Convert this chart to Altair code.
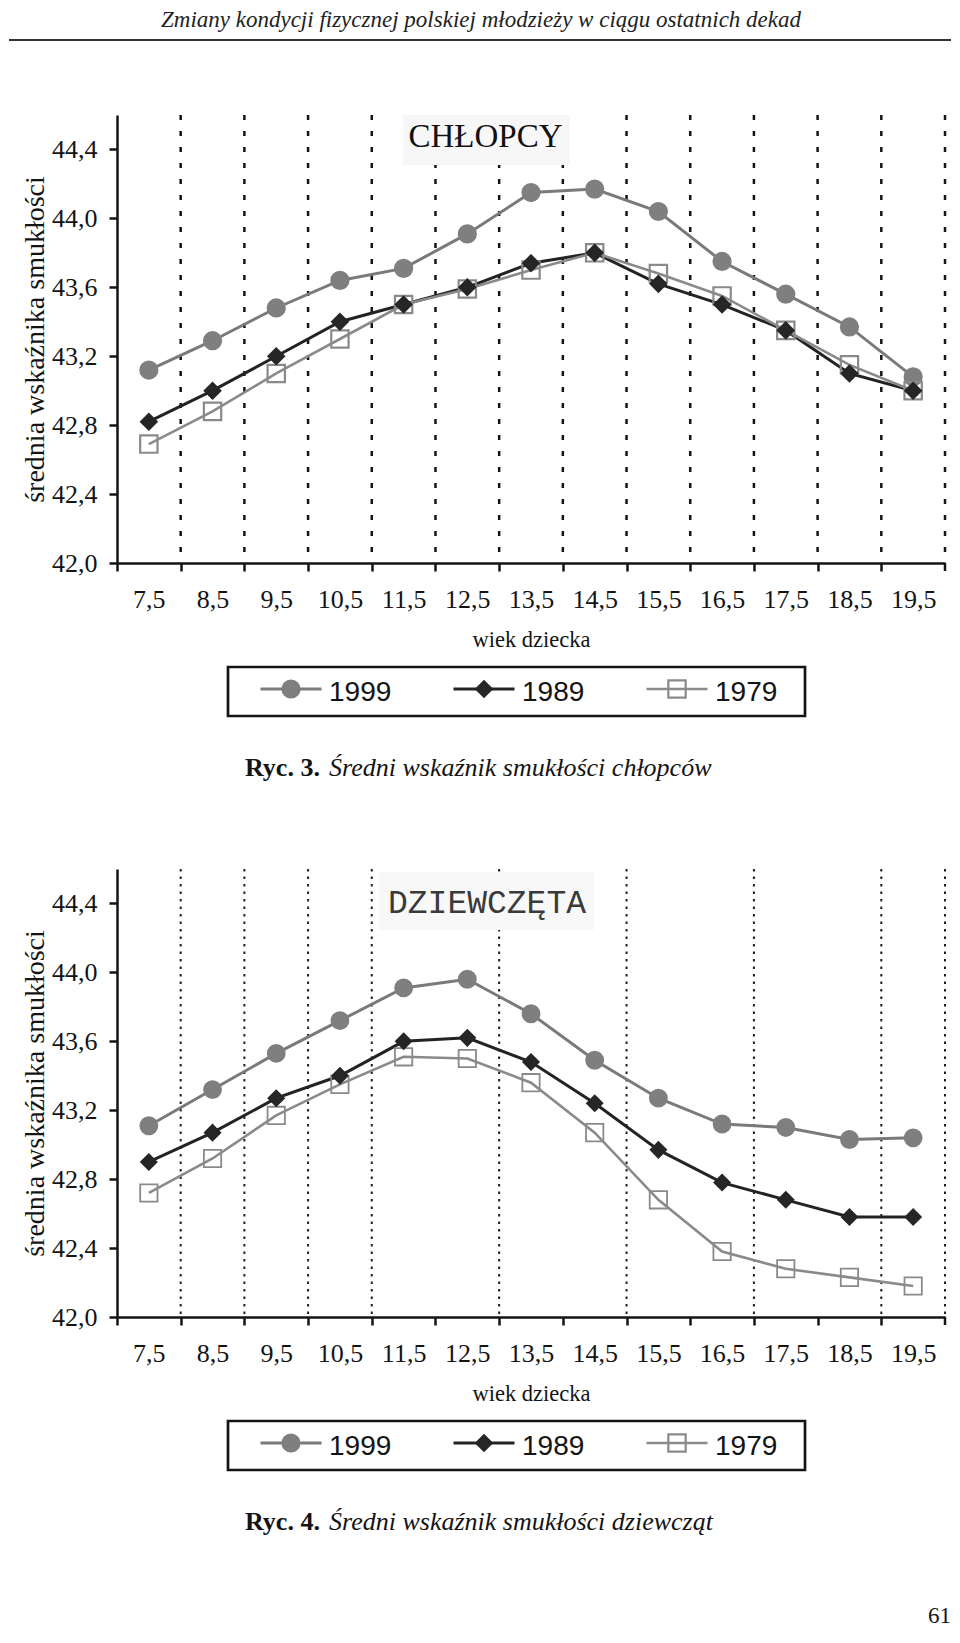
import altair as alt
import pandas as pd

# ---------------- texts ----------------
header_text = "Zmiany kondycji fizycznej polskiej młodzieży w ciągu ostatnich dekad"
page_number = "61"
x_title = "wiek dziecka"
y_title = "średnia wskaźnika smukłości"
panel_titles = ["CHŁOPCY", "DZIEWCZĘTA"]
caption_numbers = ["Ryc. 3.", "Ryc. 4."]
caption_texts = ["Średni wskaźnik smukłości chłopców", "Średni wskaźnik smukłości dziewcząt"]

# ---------------- data ----------------
series = ["1999", "1989", "1979"]
ages = [7.5, 8.5, 9.5, 10.5, 11.5, 12.5, 13.5, 14.5, 15.5, 16.5, 17.5, 18.5, 19.5]
age_labels = ["7,5", "8,5", "9,5", "10,5", "11,5", "12,5", "13,5", "14,5",
              "15,5", "16,5", "17,5", "18,5", "19,5"]
age_bounds = [7, 8, 9, 10, 11, 12, 13, 14, 15, 16, 17, 18, 19, 20]
grid_boys = [8, 9, 10, 11, 12, 13, 14, 15, 16, 17, 18, 19, 20]
grid_girls = [8, 9, 10, 11, 13, 15, 17, 19, 20]

y_ticks = [42.0, 42.4, 42.8, 43.2, 43.6, 44.0, 44.4]
y_tick_labels = ["42,0", "42,4", "42,8", "43,2", "43,6", "44,0", "44,4"]
y_domain = [42.0, 44.6]

boys_1999 = [43.12, 43.29, 43.48, 43.64, 43.71, 43.91, 44.15, 44.17, 44.04, 43.75, 43.56, 43.37, 43.08]
boys_1989 = [42.82, 43.00, 43.20, 43.40, 43.50, 43.60, 43.74, 43.80, 43.62, 43.50, 43.35, 43.10, 43.00]
boys_1979 = [42.69, 42.88, 43.10, 43.30, 43.50, 43.59, 43.70, 43.80, 43.68, 43.55, 43.35, 43.15, 43.00]

girls_1999 = [43.11, 43.32, 43.53, 43.72, 43.91, 43.96, 43.76, 43.49, 43.27, 43.12, 43.10, 43.03, 43.04]
girls_1989 = [42.90, 43.07, 43.27, 43.40, 43.60, 43.62, 43.48, 43.24, 42.97, 42.78, 42.68, 42.58, 42.58]
girls_1979 = [42.72, 42.92, 43.17, 43.35, 43.51, 43.50, 43.36, 43.07, 42.68, 42.38, 42.28, 42.23, 42.18]

draw_order = {"1999": 0, "1979": 1, "1989": 2}

# ---------------- layout ----------------
W, H = 828, 448
STEP = W / len(ages)
SERIF = "Liberation Serif"
SANS = "Liberation Sans"
INK = "#141414"

label_bounds = age_bounds[:-1]   # boundaries that carry a label (offset half a step)
end_bound = age_bounds[-1:]      # right-end tick

x_labels_js = "[" + ",".join("'%s'" % l for l in age_labels) + "]"
x_label_expr = "%s[round(datum.value - %d)]" % (x_labels_js, age_bounds[0])
y_labels_js = "[" + ",".join("'%s'" % l for l in y_tick_labels) + "]"
y_label_expr = "%s[round((datum.value - %s) / %s)]" % (
    y_labels_js, y_ticks[0], round(y_ticks[1] - y_ticks[0], 3))

xsc = alt.Scale(domain=[age_bounds[0], age_bounds[-1]], nice=False, zero=False)
ysc = alt.Scale(domain=y_domain, nice=False, zero=False)

x_axis = alt.Axis(values=label_bounds, labelExpr=x_label_expr, labelOffset=STEP / 2,
                  labelFlush=False, labelOverlap=False, grid=False,
                  tickSize=8, tickWidth=2.5, tickColor=INK,
                  domainWidth=2.5, domainColor=INK,
                  labelFont=SERIF, labelFontSize=26, labelColor=INK, labelPadding=15,
                  titleFont=SERIF, titleFontSize=22.5, titleFontWeight="normal",
                  titleColor=INK, titlePadding=16)
y_axis = alt.Axis(values=y_ticks, labelExpr=y_label_expr, grid=False,
                  tickSize=8, tickWidth=2.5, tickColor=INK,
                  domainWidth=2.5, domainColor=INK,
                  labelFont=SERIF, labelFontSize=26, labelColor=INK, labelPadding=12,
                  labelOverlap=False, labelFlush=False,
                  titleFont=SERIF, titleFontSize=28, titleFontWeight="normal",
                  titleColor=INK, titlePadding=2)

boys_style = dict(
    grid=dict(color=INK, strokeWidth=2.5, strokeDash=[5, 11]),
    line_colors=["#7a7a7a", "#232323", "#8a8a8a"],
    line_widths=[3.0, 3.0, 2.6],
    pt_fill=["#7f7f7f", "#262626", "transparent"],
    pt_stroke=["#7f7f7f", "#262626", "#8a8a8a"],
    pt_size=[290, 240, 300],
    pt_sw=2.2,
    box=(286, 453, 0, 50), box_fill="#f7f7f7",
    title_xy=(368.5, 32), title_font=SERIF, title_size=33, title_color="#111111",
)
girls_style = dict(
    grid=dict(color="#202020", strokeWidth=2.0, strokeDash=[2.5, 5]),
    line_colors=["#8a8a8a", "#262626", "#9a9a9a"],
    line_widths=[1.8, 2.2, 1.6],
    pt_fill=["#808080", "#262626", "transparent"],
    pt_stroke=["#808080", "#262626", "#909090"],
    pt_size=[220, 200, 285],
    pt_sw=1.8,
    box=(262, 477, 3, 61), box_fill="#f8f8f8",
    title_xy=(370, 43.5), title_font="Liberation Mono", title_size=33, title_color="#3a3a3a",
)


def make_plot(values, grid_vals, title, st):
    rows = []
    for s, vals in zip(series, values):
        for a, v in zip(ages, vals):
            rows.append({"wiek": a, "wskaznik": v, "rok": s, "z": draw_order[s]})
    df = pd.DataFrame(rows)

    X = alt.X("wiek:Q", scale=xsc, axis=x_axis, title=x_title)
    Y = alt.Y("wskaznik:Q", scale=ysc, axis=y_axis, title=y_title)

    grid = alt.Chart(pd.DataFrame({"granica": grid_vals})).mark_rule(**st["grid"]).encode(
        x=alt.X("granica:Q", scale=xsc, axis=x_axis, title=x_title))
    end_tick = alt.Chart(pd.DataFrame({"granica": end_bound})).mark_rule(
        color=INK, strokeWidth=2.5).encode(
        x=alt.X("granica:Q", scale=xsc, axis=x_axis, title=x_title),
        y=alt.value(H), y2=alt.value(H + 8))

    one = pd.DataFrame({"t": [title]})
    bx1, bx2, by1, by2 = st["box"]
    box = alt.Chart(one).mark_rect(fill=st["box_fill"], stroke=None).encode(
        x=alt.value(bx1), x2=alt.value(bx2), y=alt.value(by1), y2=alt.value(by2))
    ttl = alt.Chart(one).mark_text(font=st["title_font"], fontSize=st["title_size"],
                                   color=st["title_color"], align="center",
                                   baseline="alphabetic").encode(
        x=alt.value(st["title_xy"][0]), y=alt.value(st["title_xy"][1]), text="t:N")

    lines = alt.Chart(df).mark_line().encode(
        x=X, y=Y,
        color=alt.Color("rok:N", scale=alt.Scale(domain=series, range=st["line_colors"]), legend=None),
        strokeWidth=alt.StrokeWidth("rok:N", scale=alt.Scale(type="ordinal", domain=series,
                                                            range=st["line_widths"]), legend=None),
    )
    points = alt.Chart(df).mark_point(filled=True, opacity=1, strokeWidth=st["pt_sw"]).encode(
        x=X, y=Y,
        shape=alt.Shape("rok:N", scale=alt.Scale(domain=series, range=["circle", "diamond", "square"]),
                        legend=None),
        fill=alt.Fill("rok:N", scale=alt.Scale(domain=series, range=st["pt_fill"]), legend=None),
        stroke=alt.Stroke("rok:N", scale=alt.Scale(domain=series, range=st["pt_stroke"]), legend=None),
        size=alt.Size("rok:N", scale=alt.Scale(type="ordinal", domain=series, range=st["pt_size"]),
                      legend=None),
        order=alt.Order("z:Q"),
    )
    return alt.layer(grid, end_tick, box, ttl, lines, points).properties(width=W, height=H)


def make_legend(num, text, extra=None, height=306):
    ldf = pd.DataFrame({"rok": series, "z": [0, 2, 1]})
    LX = alt.X("rok:N", scale=alt.Scale(type="point", domain=series, range=[174, 560], padding=0),
               axis=None)
    one = pd.DataFrame({"num": [num], "txt": [text]})
    frame = alt.Chart(one).mark_rect(fill="white", stroke=INK, strokeWidth=2.7).encode(
        x=alt.value(111), x2=alt.value(688), y=alt.value(104), y2=alt.value(153))
    seg = alt.Chart(ldf).mark_rule(xOffset=-30.5, x2Offset=30.5).encode(
        x=LX, x2="rok:N", y=alt.value(126),
        color=alt.Color("rok:N", scale=alt.Scale(domain=series, range=["#8a8a8a", "#232323", "#939393"]),
                        legend=None),
        strokeWidth=alt.StrokeWidth("rok:N", scale=alt.Scale(type="ordinal", domain=series,
                                                            range=[3.0, 3.0, 2.5]), legend=None),
    )
    sym = alt.Chart(ldf).mark_point(filled=True, opacity=1, strokeWidth=2.2).encode(
        x=LX, y=alt.value(126),
        shape=alt.Shape("rok:N", scale=alt.Scale(domain=series, range=["circle", "diamond", "square"]),
                        legend=None),
        fill=alt.Fill("rok:N", scale=alt.Scale(domain=series, range=["#858585", "#262626", "transparent"]),
                      legend=None),
        stroke=alt.Stroke("rok:N", scale=alt.Scale(domain=series, range=["#858585", "#262626", "#8c8c8c"]),
                          legend=None),
        size=alt.Size("rok:N", scale=alt.Scale(type="ordinal", domain=series, range=[290, 256, 225]),
                      legend=None),
        order=alt.Order("z:Q"),
    )
    lab = alt.Chart(ldf).mark_text(align="left", dx=38, baseline="alphabetic", font=SANS,
                                   fontSize=28, color=INK).encode(
        x=LX, y=alt.value(137.5), text="rok:N")
    cap1 = alt.Chart(one).mark_text(align="left", baseline="alphabetic", font=SERIF, fontSize=26,
                                    fontWeight="bold", color=INK).encode(
        x=alt.value(128), y=alt.value(212.7), text="num:N")
    cap2 = alt.Chart(one).mark_text(align="left", baseline="alphabetic", font=SERIF, fontSize=26,
                                    fontStyle="italic", color=INK).encode(
        x=alt.value(212), y=alt.value(212.7), text="txt:N")
    layers = [frame, seg, sym, lab, cap1, cap2]
    if extra is not None:
        layers.append(extra)
    return alt.layer(*layers).properties(width=W, height=height)


# header (a white strip anchors the top edge so the italic text is not cut)
hdf = pd.DataFrame({"t": [header_text]})
header = alt.layer(
    alt.Chart(hdf).mark_rect(fill="white", stroke=None).encode(
        x=alt.value(0), x2=alt.value(10), y=alt.value(0), y2=alt.value(2)),
    alt.Chart(hdf).mark_rule(color="#333333", strokeWidth=2).encode(
        x=alt.value(-108), x2=alt.value(834), y=alt.value(32)),
    alt.Chart(hdf).mark_text(font=SERIF, fontSize=23, fontStyle="italic", color="#222222",
                             align="center", baseline="alphabetic").encode(
        x=alt.value(364), y=alt.value(19), text="t:N"),
).properties(width=W, height=107)

pn = alt.Chart(pd.DataFrame({"p": [page_number]})).mark_text(
    font=SERIF, fontSize=23, color=INK, align="right", baseline="alphabetic").encode(
    x=alt.value(834), y=alt.value(306), text="p:N")

plot_boys = make_plot([boys_1999, boys_1989, boys_1979], grid_boys, panel_titles[0], boys_style)
plot_girls = make_plot([girls_1999, girls_1989, girls_1979], grid_girls, panel_titles[1], girls_style)
leg_boys = make_legend(caption_numbers[0], caption_texts[0], height=306)
leg_girls = make_legend(caption_numbers[1], caption_texts[1], extra=pn, height=300)

chart = alt.vconcat(header, plot_boys, leg_boys, plot_girls, leg_girls,
                    spacing=0, bounds="flush").properties(
    padding=0, background="white"
).configure_view(stroke=None)

chart.save("out.html", embed_options={"renderer": "svg", "actions": False})
